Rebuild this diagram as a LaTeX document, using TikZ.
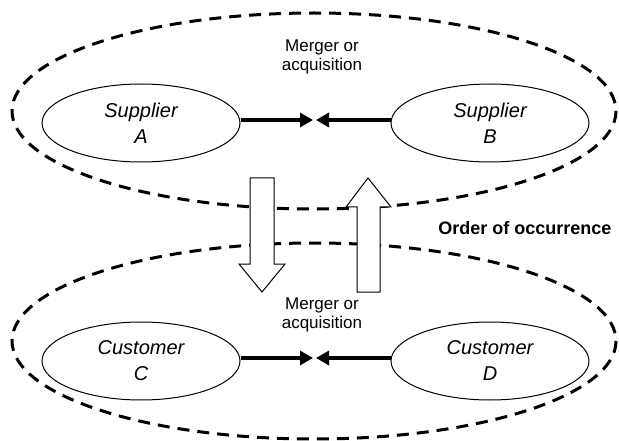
\documentclass[tikz,border=0pt]{standalone}
\usepackage{fontspec}
\setmainfont{Liberation Sans}
\usepackage{tikz}
\usetikzlibrary{shapes.geometric, arrows.meta}
\usetikzlibrary{positioning}

\begin{document}
\begin{tikzpicture}[x=1pt,y=-1pt,
    party/.style={draw,ellipse,line width=1pt,minimum width=198pt,minimum height=78pt,
      inner sep=0pt,align=center,font=\itshape\fontsize{20}{26}\selectfont},
    group/.style={draw,line width=3pt,dash pattern=on 12pt off 8pt},
    merge/.style={line width=4pt,-{Triangle[length=13pt,width=14pt]}},
    deal/.style={align=center,font=\fontsize{17}{19}\selectfont},
    blockarrow/.style={draw,fill=white,line width=1pt,line join=miter}]

        \useasboundingbox (0,0) rectangle (619,441);

        \pgfmathsetmacro{\Rx}{302}
        \pgfmathsetmacro{\Ry}{98}

        % the two groups
        \draw[group] (314,111) ellipse ({\Rx} and {\Ry});
        \draw[group] (314,341) ellipse ({\Rx} and {\Ry});

        \node[party] (supA) at (141,123) {Supplier\\A};
        \node[party] (supB) at (490,123) {Supplier\\B};
        \node[party] (cusC) at (141,361) {Customer\\C};
        \node[party] (cusD) at (490,361) {Customer\\D};

        \coordinate (topmeet) at (314.5,120);
        \coordinate (botmeet) at (314.5,358);
        \draw[merge] (supA.east) ++(0,-3) -- ([xshift=-1.5pt]topmeet);
        \draw[merge] (supB.west) ++(0,-3) -- ([xshift=1.5pt]topmeet);
        \draw[merge] (cusC.east) ++(0,-3) -- ([xshift=-1.5pt]botmeet);
        \draw[merge] (cusD.west) ++(0,-3) -- ([xshift=1.5pt]botmeet);

        \node[deal] (dealtop) at (322,57) {Merger or\\acquisition};
        \node[deal] (dealbot) at (322,315) {Merger or\\acquisition};

        % order of occurrence
        \draw[blockarrow] (250,178) -- (274,178) -- (274,264) -- (285,264)
          -- (262,292) -- (239,264) -- (250,264) -- cycle;
        \draw[blockarrow] (357,292) -- (380,292) -- (380,207) -- (391,207)
          -- (368,178) -- (346,207) -- (357,207) -- cycle;

        \node[font=\bfseries\fontsize{18}{20}\selectfont,anchor=base east]
          (order) at (615,235) {Order of occurrence};
      \end{tikzpicture}
\end{document}
